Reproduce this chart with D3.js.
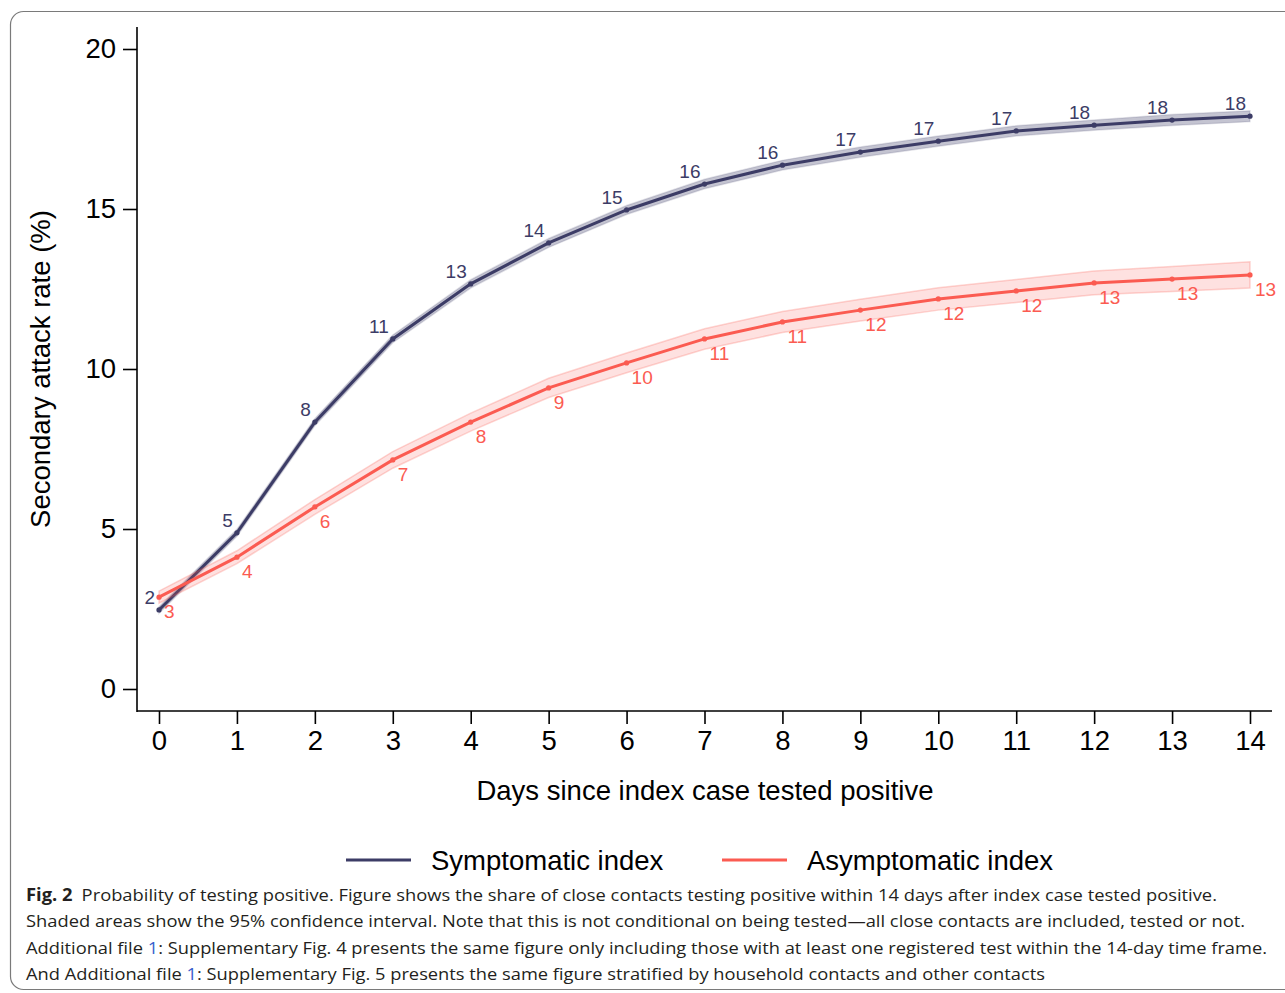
<!DOCTYPE html>
<html>
<head>
<meta charset="utf-8">
<script src="https://cdn.jsdelivr.net/npm/d3@7"></script>
<style>
  body { margin: 0; background: #fff; }
  svg { display: block; }
</style>
</head>
<body>
<div id="chart"></div>
<script>
// days since index case tested positive
const days = [0, 1, 2, 3, 4, 5, 6, 7, 8, 9, 10, 11, 12, 13, 14];

// secondary attack rate (%), symptomatic index cases
const symptomatic = [2.47, 4.88, 8.34, 10.94, 12.66, 13.94, 14.97, 15.78, 16.37, 16.78, 17.12, 17.44, 17.62, 17.78, 17.9];
const symptomaticLow = [2.37, 4.77, 8.23, 10.82, 12.53, 13.8, 14.83, 15.63, 16.22, 16.62, 16.96, 17.28, 17.46, 17.61, 17.73];
const symptomaticHigh = [2.57, 4.99, 8.45, 11.06, 12.79, 14.08, 15.11, 15.93, 16.52, 16.94, 17.28, 17.6, 17.78, 17.95, 18.07];
const symptomaticLabels = ["2", "5", "8", "11", "13", "14", "15", "16", "16", "17", "17", "17", "18", "18", "18"];

// asymptomatic index cases
const asymptomatic = [2.87, 4.12, 5.69, 7.16, 8.34, 9.41, 10.19, 10.94, 11.47, 11.84, 12.19, 12.44, 12.69, 12.81, 12.94];
const asymptomaticLow = [2.68, 3.92, 5.46, 6.9, 8.06, 9.11, 9.88, 10.62, 11.14, 11.5, 11.84, 12.08, 12.32, 12.42, 12.53];
const asymptomaticHigh = [3.06, 4.32, 5.92, 7.42, 8.62, 9.71, 10.5, 11.26, 11.8, 12.18, 12.54, 12.8, 13.06, 13.2, 13.35];
const asymptomaticLabels = ["3", "4", "6", "7", "8", "9", "10", "11", "11", "12", "12", "12", "13", "13", "13"];

const yTicks = [0, 5, 10, 15, 20];

const caption = [
  [{b: "Fig. 2"}, {t: "\u2002Probability of testing positive. Figure shows the share of close contacts testing positive within 14 days after index case tested positive."}],
  [{t: "Shaded areas show the 95% confidence interval. Note that this is not conditional on being tested\u2014all close contacts are included, tested or not."}],
  [{t: "Additional file "}, {l: "1"}, {t: ": Supplementary Fig. 4 presents the same figure only including those with at least one registered test within the 14-day time frame."}],
  [{t: "And Additional file "}, {l: "1"}, {t: ": Supplementary Fig. 5 presents the same figure stratified by household contacts and other contacts"}]
];
const captionWidths = [1191, 1219, 1241, 1019];

var width = 1285;
var height = 993;
var navy = "#3c3c66";
var red = "#fb5b51";

var svg = d3.select("#chart").append("svg")
  .attr("width", width)
  .attr("height", height);

// frame around figure
svg.append("rect")
  .attr("x", 10.5).attr("y", 11.5)
  .attr("width", 1320).attr("height", 978)
  .attr("rx", 13)
  .attr("fill", "none")
  .attr("stroke", "#7a7a7a")
  .attr("stroke-width", 1.2);

var x = d3.scaleLinear().domain([0, 14]).range([159, 1250]);
var y = d3.scaleLinear().domain([0, 20]).range([689, 49]);

var font = "'Liberation Sans', Arial, sans-serif";
var big = 27.5;

// y axis
var yAxis = svg.append("g")
  .attr("transform", "translate(137,0)")
  .call(d3.axisLeft(y).tickValues(yTicks).tickSize(14).tickPadding(7).tickSizeOuter(0));
yAxis.select(".domain").remove();
yAxis.append("line").attr("x1", 0).attr("x2", 0).attr("y1", 27).attr("y2", 712)
  .attr("stroke", "#000").attr("stroke-width", 1.6);

// x axis
var xAxis = svg.append("g")
  .attr("transform", "translate(0,711)")
  .call(d3.axisBottom(x).tickValues(days).tickSize(13).tickPadding(6).tickSizeOuter(0));
xAxis.select(".domain").remove();
xAxis.append("line").attr("x1", 137).attr("x2", 1272).attr("y1", 0).attr("y2", 0)
  .attr("stroke", "#000").attr("stroke-width", 1.6);

svg.selectAll(".tick line").attr("stroke", "#000").attr("stroke-width", 1.6);
svg.selectAll(".tick text")
  .attr("font-family", font)
  .attr("font-size", big)
  .attr("fill", "#000");

// axis titles
svg.append("text")
  .attr("x", 705).attr("y", 800)
  .attr("text-anchor", "middle")
  .attr("font-family", font).attr("font-size", big)
  .text("Days since index case tested positive");

svg.append("text")
  .attr("transform", "translate(50,369) rotate(-90)")
  .attr("text-anchor", "middle")
  .attr("font-family", font).attr("font-size", big)
  .text("Secondary attack rate (%)");

function drawSeries(vals, low, high, labels, color, band, bandStroke, labelPos) {
  var area = d3.area()
    .x(function(d, i) { return x(days[i]); })
    .y0(function(d, i) { return y(low[i]); })
    .y1(function(d, i) { return y(high[i]); });
  svg.append("path")
    .attr("d", area(vals))
    .attr("fill", band)
    .attr("stroke", bandStroke)
    .attr("stroke-width", 1.5);

  var line = d3.line()
    .x(function(d, i) { return x(days[i]); })
    .y(function(d) { return y(d); });
  svg.append("path")
    .attr("d", line(vals))
    .attr("fill", "none")
    .attr("stroke", color)
    .attr("stroke-width", 3);

  svg.selectAll(null)
    .data(vals)
    .enter()
    .append("circle")
    .attr("cx", function(d, i) { return x(days[i]); })
    .attr("cy", function(d) { return y(d); })
    .attr("r", 2.6)
    .attr("fill", color);

  svg.selectAll(null)
    .data(vals)
    .enter()
    .append("text")
    .attr("x", function(d, i) { return x(days[i]) + labelPos.dx; })
    .attr("y", function(d) { return y(d) + labelPos.dy; })
    .attr("text-anchor", labelPos.anchor)
    .attr("font-family", font)
    .attr("font-size", 19)
    .attr("fill", color)
    .text(function(d, i) { return labels[i]; });
}

drawSeries(symptomatic, symptomaticLow, symptomaticHigh, symptomaticLabels, navy,
  "rgba(60,60,102,0.3)", "rgba(60,60,102,0.15)", {dx: -4, dy: -6, anchor: "end"});
drawSeries(asymptomatic, asymptomaticLow, asymptomaticHigh, asymptomaticLabels, red,
  "rgba(251,91,81,0.18)", "rgba(251,91,81,0.25)", {dx: 5, dy: 21, anchor: "start"});

// legend
var legend = [
  {name: "Symptomatic index", color: navy, x: 346},
  {name: "Asymptomatic index", color: red, x: 722}
];
legend.forEach(function(l) {
  svg.append("line")
    .attr("x1", l.x).attr("x2", l.x + 65)
    .attr("y1", 860).attr("y2", 860)
    .attr("stroke", l.color).attr("stroke-width", 3);
  svg.append("text")
    .attr("x", l.x + 85).attr("y", 869.5)
    .attr("font-family", font).attr("font-size", big)
    .text(l.name);
});

// caption
var capFont = "'Open Sans', 'Noto Sans', sans-serif";
caption.forEach(function(parts, i) {
  var t = svg.append("text")
    .attr("x", 26)
    .attr("y", 901 + i * 26.3)
    .attr("font-family", capFont)
    .attr("font-size", 17)
    .attr("fill", "#231f20")
    .attr("textLength", captionWidths[i])
    .attr("lengthAdjust", "spacingAndGlyphs");
  parts.forEach(function(p) {
    if (p.b) t.append("tspan").attr("font-weight", "bold").text(p.b);
    if (p.t) t.append("tspan").text(p.t);
    if (p.l) t.append("tspan").attr("fill", "#3a5fcd").text(p.l);
  });
});
</script>
</body>
</html>
